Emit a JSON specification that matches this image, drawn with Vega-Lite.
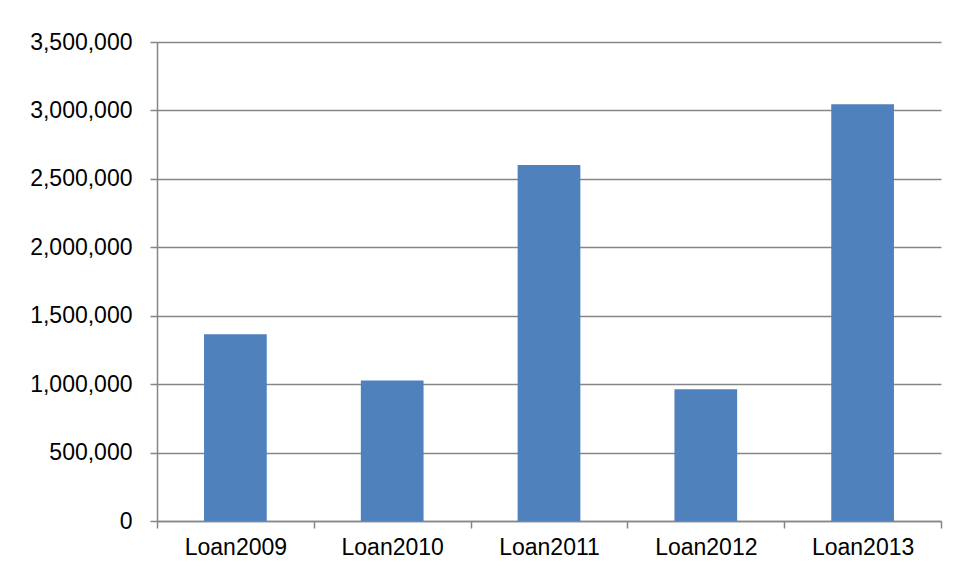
{
  "$schema": "https://vega.github.io/schema/vega-lite/v6.json",
  "autosize": "none",
  "width": 784,
  "height": 479,
  "padding": {"left": 157, "top": 42, "right": 15, "bottom": 61},
  "background": "white",
  "data": {
    "values": [
      {"loan": "Loan2009", "amount": 1364000},
      {"loan": "Loan2010", "amount": 1027000},
      {"loan": "Loan2011", "amount": 2602000},
      {"loan": "Loan2012", "amount": 963000},
      {"loan": "Loan2013", "amount": 3046000}
    ]
  },
  "mark": {"type": "bar", "color": "#4F81BD", "width": {"band": 0.4}},
  "encoding": {
    "x": {
      "field": "loan",
      "type": "nominal",
      "sort": null,
      "scale": {"paddingInner": 0, "paddingOuter": 0},
      "axis": {
        "title": null,
        "labelAngle": 0,
        "tickBand": "extent",
        "ticks": true,
        "tickSize": 7,
        "tickWidth": 1.5,
        "tickColor": "#868686",
        "domainColor": "#868686",
        "domainWidth": 1.5,
        "labelPadding": 8,
        "labelFont": "Liberation Sans",
        "labelFontSize": 23,
        "labelColor": "#000000"
      }
    },
    "y": {
      "field": "amount",
      "type": "quantitative",
      "scale": {"domain": [0, 3500000], "nice": false},
      "axis": {
        "title": null,
        "values": [0, 500000, 1000000, 1500000, 2000000, 2500000, 3000000, 3500000],
        "format": ",.0f",
        "grid": true,
        "gridColor": "#868686",
        "gridWidth": 1.5,
        "gridOpacity": 1,
        "tickColor": "#868686",
        "tickWidth": 1.5,
        "tickSize": 7,
        "domainColor": "#868686",
        "domainWidth": 1.5,
        "labelPadding": 18,
        "labelFont": "Liberation Sans",
        "labelFontSize": 23,
        "labelColor": "#000000"
      }
    }
  },
  "config": {
    "view": {"stroke": null}
  }
}
